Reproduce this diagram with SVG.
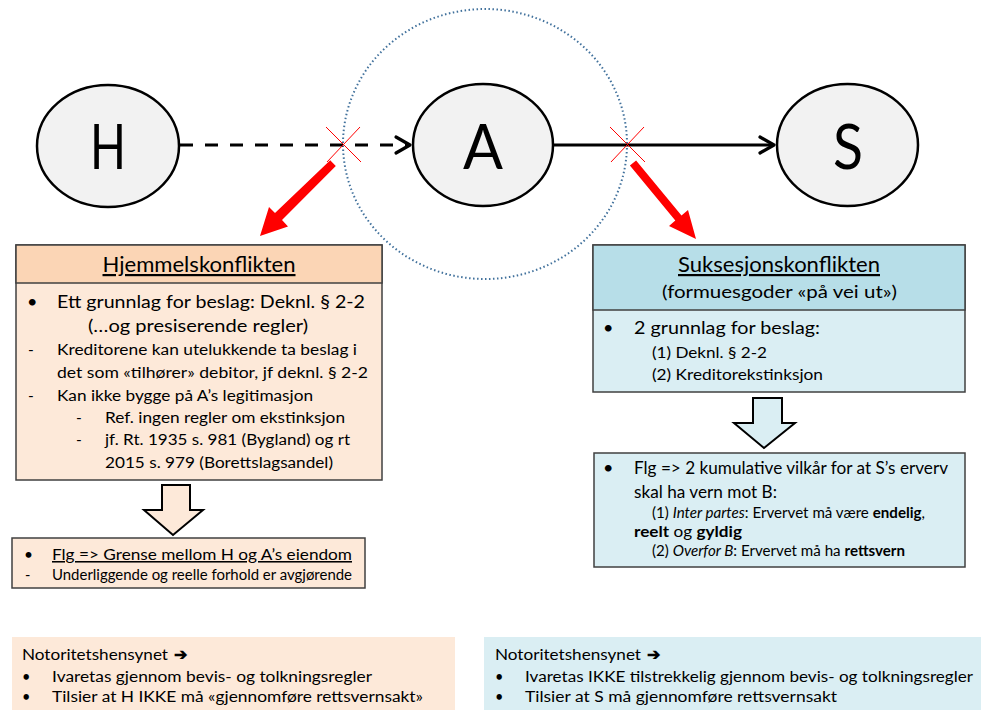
<svg xmlns="http://www.w3.org/2000/svg" width="981" height="710" viewBox="0 0 981 710">
<style>
text{font-family:Lato,"Liberation Sans",sans-serif;fill:#000}
.big{font-size:62px}
.hd{font-size:22px}
.l1{font-size:18px}
.l2{font-size:15.5px}
.l3{font-size:14.5px}
.node{fill:#F2F2F2;stroke:#000;stroke-width:2.5}
.box{stroke:#404040;stroke-width:1.5}
.ph{fill:#FBD5B5}.pb{fill:#FDE9D9}
.bh{fill:#B7DEE8}.bb{fill:#DAEEF3}
.x{stroke:#FF0000;stroke-width:1}
.red{fill:#FF0000}
.hollow{stroke:#000;stroke-width:2;stroke-linejoin:miter}
</style>
<defs>
<marker id="chev" markerUnits="userSpaceOnUse" markerWidth="22" markerHeight="22" viewBox="0 0 22 22" refX="17" refY="11" orient="auto">
<path d="M3,3 L17,11 L3,19" fill="none" stroke="#000" stroke-width="3.2" stroke-linecap="round" stroke-linejoin="round" stroke-dasharray="none"/>
</marker>
</defs>
<rect width="981" height="710" fill="#fff"/>

<ellipse id="scope" cx="485" cy="144" rx="142" ry="135" fill="none" stroke="#41719C" stroke-width="2" stroke-dasharray="1.5,2.5"/>

<g id="connectors">
<line x1="180" y1="145" x2="410" y2="145" stroke="#000" stroke-width="3.2" stroke-dasharray="13,12" marker-end="url(#chev)"/>
<line x1="553" y1="145" x2="774" y2="145" stroke="#000" stroke-width="3" marker-end="url(#chev)"/>
<line class="x" x1="326" y1="127" x2="361" y2="162"/>
<line class="x" x1="360" y1="127" x2="327" y2="162"/>
<line class="x" x1="610" y1="127" x2="645" y2="162"/>
<line class="x" x1="644" y1="127" x2="611" y2="162"/>
<polygon class="red" points="330.2,160.2 335.8,165.9 282,220 288,226.5 260,236 269,207 275,213"/>
<polygon class="red" points="636.1,160.5 629.9,165.5 675.3,220.5 669,226 696,239 688,210 681.5,215.5"/>
</g>

<g id="H">
<ellipse class="node" cx="108" cy="146" rx="71" ry="61"/>
<text class="big" x="108" y="169" text-anchor="middle" textLength="36" lengthAdjust="spacingAndGlyphs">H</text>
</g>
<g id="A">
<ellipse class="node" cx="483" cy="145" rx="70" ry="61"/>
<text class="big" x="483" y="169" text-anchor="middle" textLength="40" lengthAdjust="spacingAndGlyphs">A</text>
</g>
<g id="S">
<ellipse class="node" cx="847.5" cy="145" rx="70.5" ry="61"/>
<text class="big" x="848" y="169" text-anchor="middle" textLength="30" lengthAdjust="spacingAndGlyphs">S</text>
</g>

<g id="hjemmel">
<rect class="box pb" x="16" y="245" width="366" height="235"/>
<rect class="box ph" x="16" y="245" width="366" height="38"/>
<text class="hd" x="199" y="272" text-anchor="middle" text-decoration="underline" textLength="193" lengthAdjust="spacingAndGlyphs">Hjemmelskonflikten</text>
<text class="l1" x="27" y="308">•</text>
<text class="l1" x="57" y="308" textLength="308" lengthAdjust="spacingAndGlyphs">Ett grunnlag for beslag: Deknl. § 2-2</text>
<text class="l1" x="88" y="332" textLength="220" lengthAdjust="spacingAndGlyphs">(…og presiserende regler)</text>
<text class="l2" x="28" y="355">-</text>
<text class="l2" x="57" y="355" textLength="300" lengthAdjust="spacingAndGlyphs">Kreditorene kan utelukkende ta beslag i</text>
<text class="l2" x="57" y="378" textLength="311" lengthAdjust="spacingAndGlyphs">det som «tilhører» debitor, jf deknl. § 2-2</text>
<text class="l2" x="28" y="401">-</text>
<text class="l2" x="57" y="401" textLength="256" lengthAdjust="spacingAndGlyphs">Kan ikke bygge på A’s legitimasjon</text>
<text class="l2" x="76" y="423">-</text>
<text class="l2" x="105" y="423" textLength="240" lengthAdjust="spacingAndGlyphs">Ref. ingen regler om ekstinksjon</text>
<text class="l2" x="76" y="445">-</text>
<text class="l2" x="105" y="445" textLength="245" lengthAdjust="spacingAndGlyphs">jf. Rt. 1935 s. 981 (Bygland) og rt</text>
<text class="l2" x="105" y="468" textLength="228" lengthAdjust="spacingAndGlyphs">2015 s. 979 (Borettslagsandel)</text>
</g>

<g id="arrowL">
<polygon class="hollow pb" points="162,485 190,485 190,510 203,510 173,535 144,510 162,510"/>
</g>

<g id="grense">
<rect class="box pb" x="12" y="538" width="353" height="50"/>
<text class="l2" x="24" y="560">•</text>
<text class="l2" x="52" y="560" text-decoration="underline" textLength="300" lengthAdjust="spacingAndGlyphs">Flg =&gt; Grense mellom H og A’s eiendom</text>
<text class="l3" x="25" y="580">-</text>
<text class="l3" x="52" y="580" textLength="300" lengthAdjust="spacingAndGlyphs" font-size="13px">Underliggende og reelle forhold er avgjørende</text>
</g>

<g id="suksesjon">
<rect class="box bb" x="593" y="245" width="372" height="147"/>
<rect class="box bh" x="593" y="245" width="372" height="65"/>
<text class="hd" x="779" y="272" text-anchor="middle" text-decoration="underline" textLength="202" lengthAdjust="spacingAndGlyphs">Suksesjonskonflikten</text>
<text class="l1" x="779.5" y="298" text-anchor="middle" textLength="235" lengthAdjust="spacingAndGlyphs">(formuesgoder «på vei ut»)</text>
<text class="l1" x="603" y="334">•</text>
<text class="l1" x="634" y="334" textLength="186" lengthAdjust="spacingAndGlyphs">2 grunnlag for beslag:</text>
<text class="l2" x="652" y="358" textLength="115" lengthAdjust="spacingAndGlyphs">(1) Deknl. § 2-2</text>
<text class="l2" x="652" y="380" textLength="171" lengthAdjust="spacingAndGlyphs">(2) Kreditorekstinksjon</text>
</g>

<g id="arrowR">
<polygon class="hollow bb" points="753,398 782,398 782,423 795,423 764,448 734,423 753,423"/>
</g>

<g id="vilkar">
<rect class="box bb" x="594" y="453" width="371" height="114"/>
<text class="l1" x="603" y="474">•</text>
<text class="l1" x="634" y="474" textLength="314" lengthAdjust="spacingAndGlyphs">Flg =&gt; 2 kumulative vilkår for at S’s erverv</text>
<text class="l1" x="634" y="498" textLength="143" lengthAdjust="spacingAndGlyphs">skal ha vern mot B:</text>
<text class="l3" x="652" y="518" textLength="273" lengthAdjust="spacingAndGlyphs">(1) <tspan font-style="italic">Inter partes</tspan>: Ervervet må være <tspan font-weight="bold">endelig</tspan>,</text>
<text class="l3" x="634" y="537" textLength="108" lengthAdjust="spacingAndGlyphs"><tspan font-weight="bold">reelt</tspan> og <tspan font-weight="bold">gyldig</tspan></text>
<text class="l3" x="652" y="556" textLength="253" lengthAdjust="spacingAndGlyphs">(2) <tspan font-style="italic">Overfor B</tspan>: Ervervet må ha <tspan font-weight="bold">rettsvern</tspan></text>
</g>

<g id="notL">
<rect class="pb" x="12" y="637" width="443" height="73"/>
<text class="l3" x="22" y="660" textLength="146" lengthAdjust="spacingAndGlyphs">Notoritetshensynet</text>
<text x="174" y="660" font-family="DejaVu Sans,sans-serif" font-size="16" font-weight="bold">➔</text>
<text class="l3" x="22" y="682">•</text>
<text class="l3" x="52" y="682" textLength="320" lengthAdjust="spacingAndGlyphs">Ivaretas gjennom bevis- og tolkningsregler</text>
<text class="l3" x="22" y="702">•</text>
<text class="l3" x="52" y="702" textLength="371" lengthAdjust="spacingAndGlyphs">Tilsier at H IKKE må «gjennomføre rettsvernsakt»</text>
</g>

<g id="notR">
<rect class="bb" x="484" y="637" width="497" height="73"/>
<text class="l3" x="495" y="660" textLength="146" lengthAdjust="spacingAndGlyphs">Notoritetshensynet</text>
<text x="647" y="660" font-family="DejaVu Sans,sans-serif" font-size="16" font-weight="bold">➔</text>
<text class="l3" x="495" y="682">•</text>
<text class="l3" x="525" y="682" textLength="448" lengthAdjust="spacingAndGlyphs">Ivaretas IKKE tilstrekkelig gjennom bevis- og tolkningsregler</text>
<text class="l3" x="495" y="702">•</text>
<text class="l3" x="525" y="702" textLength="312" lengthAdjust="spacingAndGlyphs">Tilsier at S må gjennomføre rettsvernsakt</text>
</g>
</svg>
